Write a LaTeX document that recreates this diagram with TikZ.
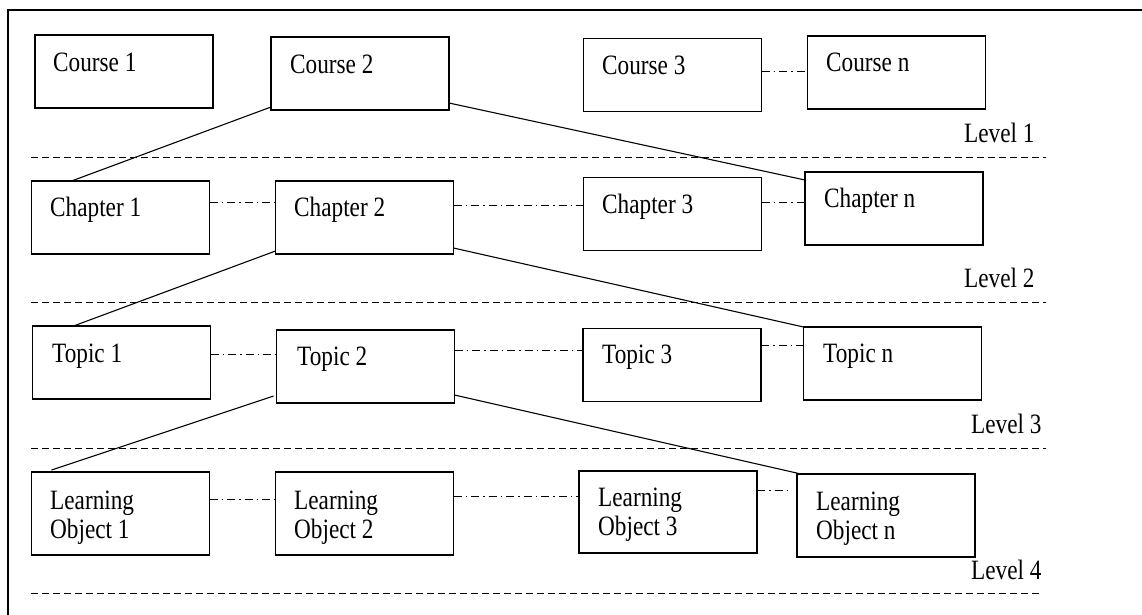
\documentclass[tikz,border=0pt]{standalone}
\usepackage{fontspec}
\setmainfont[FakeStretch=0.83]{Liberation Serif}
\begin{document}
\begin{tikzpicture}[x=1pt,y=-1pt,
  box/.style={draw,line width=1.1pt,minimum width=178pt,minimum height=73pt,inner sep=0pt,outer sep=0pt},
  tallbox/.style={box,minimum height=83pt},
  txt/.style={anchor=base west,inner sep=0pt,font=\fontsize{28}{29}\selectfont},
  link/.style={line width=1.1pt},
  dashdotline/.style={line width=0.9pt,dash pattern=on 8pt off 4pt on 1.5pt off 4pt},
  sep/.style={line width=1pt,dash pattern=on 7pt off 4pt}]
\useasboundingbox (0,0) rectangle (1142,614);
\draw[line width=1.1pt] (8,640) -- (8,10) -- (1160,10);
% level 1
\node[box] (c1) at (124,71.5) {};
\node[box] (c2) at (360,73.5) {};
\node[box] (c3) at (672.5,75) {};
\node[box] (cn) at (896.5,72.5) {};
\node[txt] (tc1) at (53,71) {Course 1};
\node[txt] (tc2) at (290,73) {Course 2};
\node[txt] (tc3) at (602,74) {Course 3};
\node[txt] (tcn) at (826,71) {Course n};
\node[txt] (l1) at (964,142) {Level 1};
% level 2
\node[box] (ch1) at (120.5,217.5) {};
\node[box] (ch2) at (364.5,217.5) {};
\node[box] (ch3) at (672.5,214) {};
\node[box] (chn) at (894,208.5) {};
\node[txt] (tch1) at (50,216) {Chapter 1};
\node[txt] (tch2) at (294,216) {Chapter 2};
\node[txt] (tch3) at (602,213) {Chapter 3};
\node[txt] (tchn) at (824,207) {Chapter n};
\node[txt] (l2) at (964,287) {Level 2};
% level 3
\node[box] (t1) at (121.5,362.5) {};
\node[box] (t2) at (365.5,366.5) {};
\node[box] (t3) at (672,365) {};
\node[box] (tn) at (892.5,363.5) {};
\node[txt] (tt1) at (52,362) {Topic 1};
\node[txt] (tt2) at (297,365) {Topic 2};
\node[txt] (tt3) at (602,363) {Topic 3};
\node[txt] (ttn) at (823,362) {Topic n};
\node[txt] (l3) at (971,433) {Level 3};
% level 4
\node[tallbox] (lo1) at (120.5,513.5) {};
\node[tallbox] (lo2) at (364.5,513.5) {};
\node[tallbox,minimum height=82pt] (lo3) at (668,512) {};
\node[tallbox] (lon) at (886,515.5) {};
\node[txt,align=left] (tlo1) at (50,538) {Learning\\Object 1};
\node[txt,align=left] (tlo2) at (294,538) {Learning\\Object 2};
\node[txt,align=left] (tlo3) at (598,535) {Learning\\Object 3};
\node[txt,align=left] (tlon) at (816,539) {Learning\\Object n};
\node[txt] (l4) at (971,579) {Level 4};
% separators
\draw[sep] (31,157) -- (1046,157);
\draw[sep] (31,302) -- (1046,302);
\draw[sep] (31,448) -- (1046,448);
\draw[sep] (31,593) -- (1042,593);
% solid connectors
\draw[link] ([yshift=3pt]c2.south west) -- ([xshift=40pt]ch1.north west);
\draw[link] ([yshift=7pt]c2.south east) -- ([yshift=-8pt]chn.north west);
\draw[link] ([yshift=3pt]ch2.south west) -- ([xshift=41pt]t1.north west);
\draw[link] ([yshift=6pt]ch2.south east) -- (tn.north west);
\draw[link] ([xshift=-3pt,yshift=7pt]t2.south west) -- ([xshift=20pt,yshift=2pt]lo1.north west);
\draw[link] ([yshift=8pt]t2.south east) -- ([xshift=4pt]lon.north west);
% dash-dot connectors
\draw[dashdotline] ([yshift=4pt]c3.east) -- ([yshift=4pt]c3.east -| cn.west);
\draw[dashdotline] ([yshift=15.5pt]ch1.east) -- ([yshift=15.5pt]ch1.east -| ch2.west);
\draw[dashdotline] ([yshift=12.5pt]ch2.east) -- ([yshift=12.5pt]ch2.east -| ch3.west);
\draw[dashdotline] ([yshift=12pt]ch3.east) -- ([yshift=12pt]ch3.east -| chn.west);
\draw[dashdotline] ([yshift=8.5pt]t1.east) -- ([yshift=8.5pt]t1.east -| t2.west);
\draw[dashdotline] ([yshift=16.5pt]t2.east) -- ([yshift=16.5pt]t2.east -| t3.west);
\draw[dashdotline] ([yshift=20pt]t3.east) -- ([yshift=20pt]t3.east -| tn.west);
\draw[dashdotline] ([yshift=14.5pt]lo1.east) -- ([yshift=14.5pt]lo1.east -| lo2.west);
\draw[dashdotline] ([yshift=17.5pt]lo2.east) -- ([yshift=17.5pt]lo2.east -| lo3.west);
\draw[dashdotline] ([yshift=22pt]lo3.east) -- ([xshift=-7pt,yshift=22pt]lo3.east -| lon.west);
\end{tikzpicture}
\end{document}
